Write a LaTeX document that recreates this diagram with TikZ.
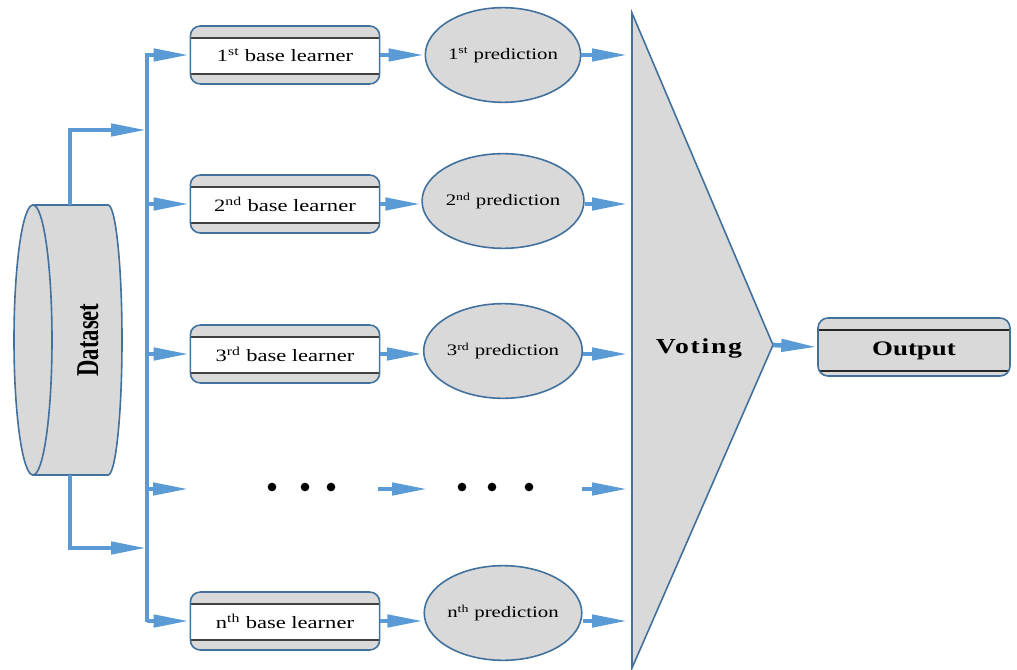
\documentclass[tikz,border=0pt]{standalone}
\usepackage{fontspec}
\setmainfont{Liberation Serif}
\newfontfamily\wideserif[FakeStretch=1.3]{Liberation Serif}
\usetikzlibrary{arrows.meta,shapes.geometric}
\definecolor{arrowblue}{HTML}{5B9BD5}
\definecolor{edgeblue}{HTML}{41719C}
\definecolor{boxgray}{HTML}{D9D9D9}

\begin{document}
\begin{tikzpicture}[x=0.75pt, y=-0.75pt,
    flow/.style={draw=arrowblue, line width=3.5pt, -{Triangle[length=27pt,width=9pt]}},
    bus/.style={draw=arrowblue, line width=3.5pt},
    edge/.style={draw=edgeblue, fill=boxgray, line width=1.2pt},
    learner/.style={edge, rounded corners=7.5pt, minimum width=142pt, minimum height=43.5pt,
      inner sep=0pt, font=\wideserif\fontsize{13}{15}\selectfont,
      path picture={\draw[sharp corners, black!75, fill=white, line width=0.8pt]
        ([yshift=-9pt]path picture bounding box.north west) rectangle
        ([yshift=7.5pt]path picture bounding box.south east);}},
    outbox/.style={edge, rounded corners=7.5pt, minimum width=144pt, minimum height=43.5pt,
      inner sep=0pt, font=\wideserif\bfseries\fontsize{15.5}{17}\selectfont,
      path picture={\draw[sharp corners, black!85, line width=0.8pt]
        ([yshift=-9pt]path picture bounding box.north west) rectangle
        ([yshift=3.75pt]path picture bounding box.south east);}},
    predict/.style={edge, ellipse, minimum width=114pt, minimum height=71pt, inner sep=0pt,
      font=\wideserif\fontsize{12}{14}\selectfont},
    dot/.style={circle, fill=black, inner sep=0pt, minimum size=6.5pt}]
  \useasboundingbox (0,0) rectangle (1017,670);

  \fill[boxgray] (33,205) -- (108,205)
    arc[start angle=-90, end angle=90, x radius=14, y radius=135]
    -- (33,475) arc[start angle=90, end angle=270, x radius=19, y radius=135] -- cycle;
  \draw[edgeblue, line width=1.2pt] (33,205) -- (108,205)
    arc[start angle=-90, end angle=90, x radius=14, y radius=135] -- (33,475);
  \draw[edgeblue, line width=1.2pt] (33,340) ellipse[x radius=19, y radius=135];
  \node[rotate=90, font=\bfseries\fontsize{17}{19}\selectfont] (data) at (88,340)
    {\scalebox{1}[1.4]{Dataset}};
  \coordinate (dtop) at (70,205);
  \coordinate (dbot) at (70,475);

  \coordinate (bustop) at (147,55);
  \coordinate (busbot) at (147,620);
  \draw[bus] ([yshift=1.75pt]bustop) -- ([yshift=-1.75pt]busbot);
  \coordinate (jtop) at (147,130);
  \coordinate (jbot) at (147,548);
  \draw[flow] (dtop) |- (jtop);
  \draw[flow] (dbot) |- (jbot);

  \coordinate (vtop) at (632,13);
  \coordinate (vbot) at (632,668);
  \coordinate (vtip) at (773,345);
  \filldraw[edge] (vtop) -- (vtip) -- (vbot) -- cycle;
  \node[font=\wideserif\bfseries\fontsize{16}{18}\selectfont\addfontfeature{LetterSpace=8}]
    (vote) at (699,348) {Voting};

  \foreach \y/\e/\s/\n in {55/55/1/st, 204/201/2/nd, 354/351/3/rd, 621/613/n/th}{
    \coordinate (b\s) at (147,\y);
    \node[learner] (bl\s) at (285,\y) {\s\textsuperscript{\n} base learner};
    \node[predict] (pr\s) at (503,\e) {\s\textsuperscript{\n} prediction};
    \draw[flow] (b\s) -- (bl\s.west);
    \draw[flow] (bl\s.east) -- (bl\s.east -| pr\s.west);
    \draw[flow, shorten >=3pt] (bl\s -| pr\s.east) -- (bl\s -| vtop);
  }

  \coordinate (b4) at (147,489);
  \coordinate (e4) at (189,489);
  \draw[flow] (b4) -- (e4);
  \foreach \x [count=\i] in {272, 305, 331}
    \node[dot] (dl\i) at (\x,487) {};
  \foreach \x [count=\i] in {462, 492, 529}
    \node[dot] (dr\i) at (\x,487) {};
  \coordinate (m4) at (378,489);
  \coordinate (n4) at (428,489);
  \draw[flow] (m4) -- (n4);
  \coordinate (p4) at (582,489);
  \draw[flow, shorten >=3pt] (p4) -- (p4 -| vtop);

  \node[outbox] (out) at (914,347) {\raisebox{-6.5pt}[0pt][0pt]{Output}};
  \draw[flow] (vtip) -- (out.west);
\end{tikzpicture}
\end{document}
